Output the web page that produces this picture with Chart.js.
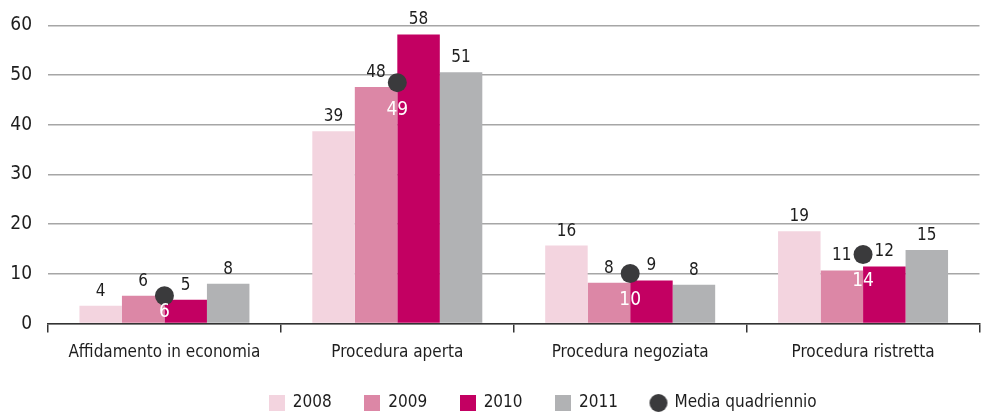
<!DOCTYPE html>
<html>
<head>
<meta charset="utf-8">
<script src="https://cdn.jsdelivr.net/npm/chart.js@4.4.1/dist/chart.umd.min.js"></script>
<style>
  html, body { margin: 0; padding: 0; background: #fff; overflow: hidden; }
  #box { width: 989px; height: 412px; position: relative; }
</style>
</head>
<body>
<div id="box"><canvas id="grafico"></canvas></div>
<script>
// dati
const categorie = ['Affidamento in economia', 'Procedura aperta', 'Procedura negoziata', 'Procedura ristretta'];
const anni = ['2008', '2009', '2010', '2011'];
const valori2008 = [3.6, 38.7, 15.7, 18.6];
const valori2009 = [5.6, 47.6, 8.2, 10.7];
const valori2010 = [4.8, 58.2, 8.7, 11.5];
const valori2011 = [8.0, 50.6, 7.8, 14.8];
const mediaQuadriennio = [5.6, 48.5, 10.1, 13.9];
const tickY = [0, 10, 20, 30, 40, 50, 60];

const colori = ['#f3d4df', '#dc87a6', '#c30062', '#b1b2b4'];
const coloreMedia = '#3a3a3c';
const font = "'Liberation Sans Narrow', 'DejaVu Sans Condensed', sans-serif";

function iconaRett(colore) {
    const c = document.createElement('canvas');
    c.width = 16; c.height = 16;
    const x = c.getContext('2d');
    x.fillStyle = colore;
    x.fillRect(0, 0, 16, 16);
    return c;
}
function iconaCerchio(colore) {
    const c = document.createElement('canvas');
    c.width = 20; c.height = 20;
    const x = c.getContext('2d');
    x.fillStyle = colore;
    x.beginPath();
    x.arc(10, 10, 9, 0, Math.PI * 2);
    x.fill();
    return c;
}

// etichette dei valori
const etichette = {
    id: 'etichette',
    afterDatasetsDraw(chart) {
        const ctx = chart.ctx;
        const fondo = chart.chartArea.bottom;
        ctx.save();
        ctx.textAlign = 'center';
        chart.data.datasets.forEach((ds, i) => {
            const meta = chart.getDatasetMeta(i);
            meta.data.forEach((el, j) => {
                const testo = String(Math.round(ds.data[j]));
                if (ds.type === 'line') {
                    ctx.fillStyle = '#ffffff';
                    ctx.font = '19px ' + font;
                    ctx.textBaseline = 'middle';
                    ctx.fillText(testo, el.x, Math.min(el.y + 27, fondo - 12));
                } else {
                    ctx.fillStyle = '#1e1e1e';
                    ctx.font = '17px ' + font;
                    ctx.textBaseline = 'bottom';
                    ctx.fillText(testo, el.x, el.y - 6);
                }
            });
        });
        ctx.restore();
    }
};

// legenda spostata a destra come nell'originale
const spostaLegenda = {
    id: 'spostaLegenda',
    afterLayout(chart) {
        const l = chart.legend;
        l.top = 403 - 33 - 8.5;
        l.bottom = chart.height;
        l.left += 49;
        l.right += 49;
    }
};

const serie = [valori2008, valori2009, valori2010, valori2011];
const datasets = serie.map((v, i) => ({
    type: 'bar',
    label: anni[i],
    data: v,
    backgroundColor: colori[i],
    order: 2
}));
datasets.push({
    type: 'line',
    label: 'Media quadriennio',
    data: mediaQuadriennio,
    showLine: false,
    pointRadius: 9.5,
    pointHoverRadius: 9.5,
    pointBackgroundColor: coloreMedia,
    pointBorderWidth: 0,
    order: 0
});

const icone = colori.map(iconaRett).concat([iconaCerchio(coloreMedia)]);

new Chart(document.getElementById('grafico'), {
    data: { labels: categorie, datasets: datasets },
    plugins: [etichette, spostaLegenda],
    options: {
        responsive: true,
        maintainAspectRatio: false,
        animation: false,
        layout: { padding: { top: 0, right: 1, left: 0, bottom: 0 } },
        datasets: { bar: { categoryPercentage: 0.73, barPercentage: 1 } },
        plugins: {
            tooltip: { enabled: false },
            legend: {
                position: 'bottom',
                maxHeight: 39,
                labels: {
                    usePointStyle: true,
                    pointStyleWidth: 15,
                    boxHeight: 16,
                    padding: 33,
                    color: '#1e1e1e',
                    font: { family: font, size: 17 },
                    generateLabels(chart) {
                        const items = Chart.defaults.plugins.legend.labels.generateLabels(chart);
                        items.sort((a, b) => a.datasetIndex - b.datasetIndex);
                        items.forEach(it => { it.pointStyle = icone[it.datasetIndex]; });
                        return items;
                    }
                }
            }
        },
        scales: {
            x: {
                grid: { display: true, drawOnChartArea: false, color: '#333', lineWidth: 1.5, tickLength: 9 },
                border: { color: '#333', width: 1.5 },
                ticks: { color: '#1e1e1e', font: { family: font, size: 17 }, padding: 10 }
            },
            y: {
                min: 0, max: 60,
                afterFit(scale) { scale.width = 48; },
                afterBuildTicks(scale) { scale.ticks = tickY.map(v => ({ value: v })); },
                grid: { color: '#a6a6a6', lineWidth: 1.5, drawTicks: false },
                border: { display: false },
                ticks: { color: '#1e1e1e', font: { family: font, size: 19, lineHeight: 1 }, padding: 16 }
            }
        }
    }
});
</script>
</body>
</html>
